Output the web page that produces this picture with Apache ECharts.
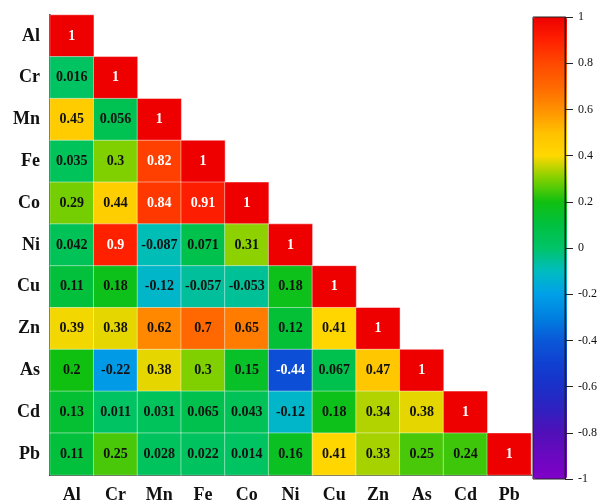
<!DOCTYPE html>
<html>
<head>
<meta charset="utf-8">
<style>html,body{margin:0;padding:0;background:#fff}#chart{width:600px;height:504px}</style>
<script src="https://cdn.jsdelivr.net/npm/echarts@6/dist/echarts.min.js"></script>
</head>
<body>
<div id="chart"></div>
<script>
// Element names, in row/column order
const elements = ['Al', 'Cr', 'Mn', 'Fe', 'Co', 'Ni', 'Cu', 'Zn', 'As', 'Cd', 'Pb'];

// Lower-triangle correlation coefficients, one row per element
const rowAl = [1];
const rowCr = [0.016, 1];
const rowMn = [0.45, 0.056, 1];
const rowFe = [0.035, 0.3, 0.82, 1];
const rowCo = [0.29, 0.44, 0.84, 0.91, 1];
const rowNi = [0.042, 0.9, -0.087, 0.071, 0.31, 1];
const rowCu = [0.11, 0.18, -0.12, -0.057, -0.053, 0.18, 1];
const rowZn = [0.39, 0.38, 0.62, 0.7, 0.65, 0.12, 0.41, 1];
const rowAs = [0.2, -0.22, 0.38, 0.3, 0.15, -0.44, 0.067, 0.47, 1];
const rowCd = [0.13, 0.011, 0.031, 0.065, 0.043, -0.12, 0.18, 0.34, 0.38, 1];
const rowPb = [0.11, 0.25, 0.028, 0.022, 0.014, 0.16, 0.41, 0.33, 0.25, 0.24, 1];

// Colour bar tick labels
const barTicks = [-1, -0.8, -0.6, -0.4, -0.2, 0, 0.2, 0.4, 0.6, 0.8, 1];

const rows = [rowAl, rowCr, rowMn, rowFe, rowCo, rowNi, rowCu, rowZn, rowAs, rowCd, rowPb];
const cells = [];
rows.forEach((row, r) => {
  row.forEach((v, c) => cells.push([c, r, v]));
});

// Colour ramp from -1 to 1 in steps of 0.1
const ramp = ['#8000c8', '#6a08c0', '#5010b8', '#3020c0', '#1a30c8', '#1040d0',
  '#0a58d8', '#0080e0', '#00a0e8', '#00bcc0', '#00c468', '#00c040', '#10c010',
  '#80d000', '#ffd800', '#ffc000', '#ff9000', '#ff6800', '#ff4800', '#ff2000', '#ee0000'];

const serif = '"Liberation Serif", "DejaVu Serif", serif';

const chart = echarts.init(document.getElementById('chart'));
chart.setOption({
  animation: false,
  grid: [
    { left: 50, top: 15, width: 481, height: 462 },
    { left: 533, top: 17, width: 34, height: 462, show: true, borderColor: '#222', borderWidth: 1, backgroundColor: 'transparent', z: 5 }
  ],
  xAxis: [
    {
      type: 'category', data: elements, gridIndex: 0,
      axisLine: { lineStyle: { color: '#111', width: 2 } },
      axisTick: { show: false },
      axisLabel: { fontFamily: serif, fontWeight: 'bold', fontSize: 18, color: '#111', margin: 11 },
      splitLine: { show: false }
    },
    { type: 'value', gridIndex: 1, show: false, min: 0, max: 1 }
  ],
  yAxis: [
    {
      type: 'category', data: elements, gridIndex: 0, inverse: true,
      axisLine: { lineStyle: { color: '#111', width: 2 } },
      axisTick: { show: false },
      axisLabel: { fontFamily: serif, fontWeight: 'bold', fontSize: 18, color: '#111', margin: 10 },
      splitLine: { show: false }
    },
    {
      type: 'value', gridIndex: 1, position: 'right', min: -1, max: 1, interval: 0.2,
      axisLine: { show: true, onZero: false, lineStyle: { color: '#222', width: 1 } },
      axisTick: { show: true, inside: false, length: 8, lineStyle: { color: '#222', width: 1 } },
      axisLabel: {
        fontFamily: serif, fontSize: 12, color: '#111', margin: 13,
        formatter: v => {
          const t = barTicks.find(b => Math.abs(b - v) < 1e-6);
          return t === undefined ? '' : String(t);
        }
      },
      splitLine: { show: false },
      z: 6
    }
  ],
  visualMap: {
    type: 'continuous', min: -1, max: 1, seriesIndex: 0,
    calculable: false, text: null, showLabel: false,
    left: 533, top: 17, itemWidth: 34, itemHeight: 462, padding: 0,
    inRange: { color: ramp },
    hoverLink: false
  },
  series: [
    {
      type: 'heatmap', xAxisIndex: 0, yAxisIndex: 0,
      data: cells.map(d => ({
        value: d,
        // light text on the saturated red and deep blue cells
        label: { color: (d[2] >= 0.8 || d[2] <= -0.4) ? '#fff' : '#111' }
      })),
      itemStyle: { borderColor: 'rgba(255,255,255,0.45)', borderWidth: 1 },
      label: {
        show: true, fontFamily: serif, fontWeight: 'bold', fontSize: 14,
        formatter: p => String(p.value[2])
      },
      emphasis: { disabled: true }
    }
  ]
});
</script>
</body>
</html>
